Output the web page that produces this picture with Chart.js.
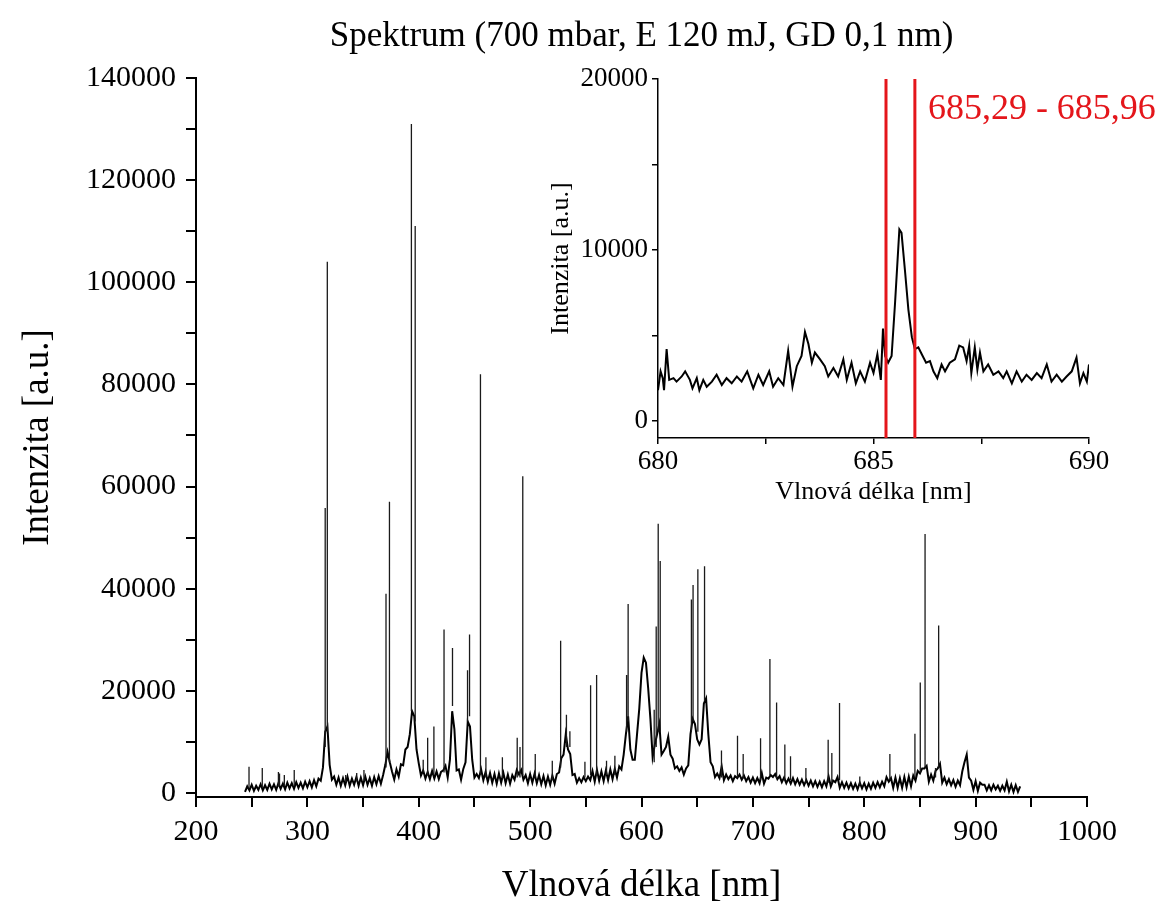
<!DOCTYPE html>
<html>
<head>
<meta charset="utf-8">
<script src="https://cdn.jsdelivr.net/npm/chart.js@4.4.0/dist/chart.umd.min.js"></script>
<style>
  html, body { margin: 0; padding: 0; background: #fff; }
  #wrap { position: relative; width: 1163px; height: 910px; }
  #main { position: absolute; left: 0; top: 0; }
  #inset { position: absolute; left: 530px; top: 40px; }
</style>
</head>
<body>
<div id="wrap">
  <canvas id="main" width="1163" height="910"></canvas>
  <canvas id="inset" width="633" height="470"></canvas>
</div>
<script>
/* Spektrum - data */

const chartTitle = 'Spektrum (700 mbar, E 120 mJ, GD 0,1 nm)';
const xTitle = 'Vlnová délka [nm]';
const yTitle = 'Intenzita [a.u.]';

// main axis ticks
const mainXTicks = [200, 250, 300, 350, 400, 450, 500, 550, 600, 650, 700, 750, 800, 850, 900, 950, 1000];
const mainYTicks = [0, 10000, 20000, 30000, 40000, 50000, 60000, 70000, 80000, 90000, 100000, 110000, 120000, 130000, 140000];

// continuum (every 2 nm from 244 nm)
const baseStart = 244;
const baseStep = 2;
const baseline = [
  200, 1300, 500, 1600, 400, 1400, 600, 1700, 500, 1500,
  600, 1800, 700, 1700, 600, 1900, 800, 1800, 700, 2000,
  900, 1900, 800, 2100, 1000, 2000, 900, 2200, 1100, 2300,
  1100, 2500, 1300, 2800, 2400, 5000, 12000, 13000, 5500, 2600,
  3200, 1600, 3000, 1400, 2900, 1500, 3200, 1400, 2800, 1600,
  3100, 1400, 3000, 1500, 3200, 1600, 2900, 1400, 3100, 1700,
  3300, 1800, 3500, 5500, 8000, 6000, 4200, 2600, 4600, 3200,
  5600, 5400, 8500, 9000, 11500, 16000, 15000, 8500, 5800, 3400,
  4400, 2800, 4100, 2700, 4300, 2800, 4200, 2700, 4100, 4400,
  5300, 3000, 6500, 16000, 12500, 4400, 4600, 2600, 4700, 6000,
  14000, 13000, 6500, 3000, 3700, 2900, 4600, 2500, 4100, 2200,
  3900, 2000, 3700, 1800, 3800, 2000, 3900, 1900, 3600, 1800,
  3500, 2600, 4500, 3600, 4500, 2600, 3500, 1900, 3700, 2000,
  3800, 1900, 3500, 1700, 3300, 1500, 3200, 1600, 3400, 1800,
  3700, 4000, 6800, 7500, 11500, 8500, 7600, 3500, 3700, 2000,
  2900, 2100, 3100, 2300, 3200, 2500, 4300, 2200, 4500, 2400,
  4200, 2300, 4400, 2500, 4600, 2700, 4700, 3000, 5200, 4600,
  7500, 11500, 15000, 8500, 6500, 6500, 11500, 16500, 23500, 26500,
  25500, 20500, 14500, 7000, 9500, 11500, 13500, 7500, 8200, 9000,
  11000, 7500, 6700, 4800, 5200, 4300, 5000, 3600, 4800, 5400,
  11500, 14500, 13500, 10500, 9500, 10500, 17500, 18500, 11500, 6000,
  5200, 3100, 3800, 2900, 5200, 2500, 3600, 2700, 3400, 2300,
  3300, 2900, 3600, 2600, 3400, 2300, 3100, 2000, 3000, 1900,
  2900, 1900, 3900, 1800, 3000, 2800, 3500, 3100, 3700, 2700,
  3300, 2100, 3000, 1900, 2800, 1800, 2900, 1700, 2700, 1600,
  2600, 1500, 2500, 1400, 2400, 1300, 2300, 1200, 2200, 1100,
  2300, 1300, 3200, 1300, 2400, 2100, 3100, 1000, 2100, 1000,
  2000, 900, 1900, 800, 1800, 700, 2000, 900, 1900, 700,
  1800, 800, 2000, 1000, 2100, 1100, 2200, 1300, 3100, 2200,
  2900, 1000, 3000, 1000, 2900, 1000, 3100, 1100, 3200, 1300,
  3400, 2400, 4300, 3800, 4800, 4800, 5300, 2200, 3600, 2400,
  4300, 4800, 5700, 2000, 3000, 1700, 2700, 1500, 2500, 1200,
  2400, 1500, 4200, 6000, 7500, 3000, 2400, 600, 2300, 400,
  2000, 1600, 1600, 500, 1500, 500, 1600, 700, 1400, 400,
  1400, 500, 2200, 300, 1600, 200, 1500, 200, 1300
];

// emission lines: [wavelength nm, peak intensity, intensity at the foot]
const lines = [
  [247.6, 5100, 900], [259.5, 4900, 1100], [274.0, 4100, 1300], [275.0, 3800, 1300],
  [279.3, 3500, 1300], [288.2, 4500, 1500], [316.0, 55800, 9000], [317.9, 104000, 12000],
  [334.4, 3500, 2200], [344.3, 3900, 2300], [350.8, 4500, 2300], [370.6, 39000, 5000],
  [373.7, 57000, 6000], [393.4, 131000, 16000], [396.8, 111000, 14000], [404.0, 6500, 4000],
  [408.0, 10800, 3500], [413.6, 13000, 3500], [422.7, 32000, 4000], [430.3, 28400, 17000],
  [443.8, 24000, 14000], [445.6, 31000, 15000], [455.4, 82000, 3500], [460.3, 7000, 3000],
  [475.1, 7000, 2800], [488.4, 10800, 3000], [490.9, 9000, 3000], [493.4, 62000, 3500],
  [504.6, 7600, 3000], [519.9, 6300, 2500], [527.4, 29800, 5000], [532.6, 15300, 9000],
  [535.7, 12100, 9000], [549.2, 6100, 3000], [554.3, 21100, 3500], [559.7, 23100, 3500],
  [568.6, 6300, 3500], [576.1, 7300, 3500], [586.6, 23100, 12000], [588.0, 37000, 14000],
  [611.4, 16300, 6000], [613.2, 32600, 9000], [615.0, 52700, 12000], [616.8, 45400, 12000],
  [644.8, 37900, 12000], [646.3, 40700, 14000], [650.6, 43800, 12000], [656.6, 44400, 18000],
  [671.8, 8300, 3000], [686.2, 11200, 3000], [691.3, 7600, 2800], [706.9, 10700, 2500],
  [715.3, 26200, 3500], [721.3, 17700, 2800], [728.7, 9500, 2500], [733.8, 7200, 2500],
  [747.6, 4900, 2000], [767.6, 10400, 2000], [770.9, 7800, 2000], [777.8, 17600, 2500],
  [796.0, 3200, 1500], [823.0, 7600, 2500], [845.5, 11600, 3000], [850.3, 21600, 4000],
  [854.6, 50700, 5000], [864.0, 4900, 3000], [866.8, 32800, 5000]
];

// inset: detail 680 - 690 nm
const insetXTicks = [680, 682.5, 685, 687.5, 690];
const insetYTicks = [0, 5000, 10000, 15000, 20000];
const bandEdges = [685.29, 685.96];
const bandLabel = '685,29 - 685,96';
const insetNm = [
  680.0, 680.06, 680.11, 680.14, 680.2, 680.26, 680.36, 680.43, 680.55, 680.63,
  680.74, 680.8, 680.9, 680.96, 681.05, 681.13, 681.25, 681.36, 681.48, 681.59,
  681.71, 681.83, 681.94, 682.07, 682.21, 682.33, 682.44, 682.58, 682.67, 682.79,
  682.91, 683.02, 683.12, 683.22, 683.33, 683.41, 683.49, 683.57, 683.64, 683.76,
  683.87, 683.95, 684.07, 684.18, 684.3, 684.38, 684.49, 684.59, 684.69, 684.8,
  684.92, 685.0, 685.09, 685.17, 685.22, 685.27, 685.34, 685.42, 685.5, 685.6,
  685.65, 685.73, 685.81, 685.89, 685.96, 686.04, 686.12, 686.22, 686.31, 686.39,
  686.48, 686.58, 686.66, 686.77, 686.89, 686.99, 687.08, 687.16, 687.22, 687.27,
  687.35, 687.41, 687.47, 687.55, 687.66, 687.78, 687.9, 688.01, 688.09, 688.21,
  688.32, 688.44, 688.55, 688.67, 688.79, 688.9, 689.02, 689.13, 689.25, 689.37,
  689.48, 689.6, 689.71, 689.79, 689.87, 689.95, 690.0
];
const insetInt = [
  1800, 2900, 2500, 1800, 4200, 2400, 2500, 2300, 2600, 2900,
  2400, 1900, 2500, 1800, 2400, 2000, 2300, 2700, 2100, 2500,
  2200, 2600, 2300, 2900, 1900, 2700, 2100, 2900, 2000, 2500,
  2100, 4100, 2000, 3200, 3800, 5200, 4500, 3400, 4000, 3600,
  3200, 2600, 3100, 2600, 3600, 2400, 3400, 2200, 2900, 2300,
  3400, 2800, 3900, 2400, 5400, 3800, 3400, 3800, 6900, 11200,
  11000, 8800, 6500, 4900, 4200, 4300, 3900, 3400, 3500, 2900,
  2500, 3300, 2900, 3400, 3600, 4400, 4300, 3500, 4400, 2800,
  4300, 3000, 4000, 2900, 3300, 2700, 2900, 2500, 2900, 2200,
  2900, 2300, 2700, 2400, 2800, 2500, 3300, 2300, 2700, 2300,
  2600, 2900, 3700, 2200, 2800, 2300, 3300
];

const SERIF = '"Liberation Serif", "DejaVu Serif", serif';
const RED = '#e4161b';

function continuumPoints() {
  return baseline.map((v, i) => ({ x: baseStart + i * baseStep, y: v }));
}

// each line is a vertical stroke from its foot to its peak, with a gap after it
function linePoints() {
  return lines.flatMap(([nm, peak, foot]) => [
    { x: nm, y: foot }, { x: nm, y: peak }, { x: nm, y: null }
  ]);
}

function axisStyle(size, width) {
  return {
    border: { color: '#000', width: width },
    grid: { drawOnChartArea: false, color: '#000', lineWidth: width, tickLength: size },
  };
}

function initMainChart() {
  const ctx = document.getElementById('main').getContext('2d');

  // eslint-disable-next-line no-unused-vars
  const mainChart = new Chart(ctx, {
    type: 'line',
    data: {
      datasets: [{
        data: linePoints(),
        borderColor: '#1a1a1a',
        borderWidth: 1.3,
        pointRadius: 0,
        spanGaps: false,
      },
      {
        data: continuumPoints(),
        borderColor: '#000',
        borderWidth: 2,
        pointRadius: 0,
        tension: 0,
      }]
    },
    options: {
      responsive: false,
      animation: false,
      events: [],
      layout: { padding: { left: 16, right: 76, top: 0, bottom: 2 } },
      plugins: {
        legend: { display: false },
        tooltip: { enabled: false },
        title: {
          display: true,
          fullSize: false,
          text: chartTitle,
          color: '#000',
          font: { family: SERIF, size: 35, weight: 'normal' },
          padding: { top: 16, bottom: 20 },
        },
      },
      scales: {
        x: {
          type: 'linear',
          min: 200,
          max: 1000,
          afterBuildTicks: s => { s.ticks = mainXTicks.map(v => ({ value: v })); },
          afterFit: s => { s.height = 111; },
          ticks: {
            autoSkip: false,
            maxRotation: 0,
            padding: 7,
            color: '#000',
            font: { family: SERIF, size: 30 },
            callback: v => (v % 100 === 0 ? String(v) : ''),
          },
          title: {
            display: true,
            text: xTitle,
            color: '#000',
            font: { family: SERIF, size: 37 },
            padding: { top: 0, bottom: 0 },
          },
          ...axisStyle(10, 2),
        },
        y: {
          type: 'linear',
          min: -800,
          max: 140000,
          afterBuildTicks: s => { s.ticks = mainYTicks.map(v => ({ value: v })); },
          afterFit: s => { s.width = 180; },
          ticks: {
            autoSkip: false,
            padding: 10,
            color: '#000',
            font: { family: SERIF, size: 30 },
            callback: v => (v % 20000 === 0 ? String(v) : ''),
          },
          title: {
            display: true,
            text: yTitle,
            color: '#000',
            font: { family: SERIF, size: 37 },
            padding: { top: 0, bottom: 0 },
          },
          ...axisStyle(10, 2),
        },
      },
    },
  });
}

const bandLabelPlugin = {
  id: 'bandLabel',
  afterDraw(chart) {
    const { ctx, scales } = chart;
    const x = scales.x.getPixelForValue(bandEdges[1]) + 13;
    const y = scales.y.getPixelForValue(18200);
    ctx.save();
    ctx.fillStyle = RED;
    ctx.font = '36px ' + SERIF;
    ctx.textBaseline = 'middle';
    ctx.textAlign = 'left';
    ctx.fillText(bandLabel, x, y);
    ctx.restore();
  }
};

function initInsetChart() {
  const ctx = document.getElementById('inset').getContext('2d');
  const yMin = -1000;
  const yMax = 20000;

  const edgeSets = bandEdges.map(edge => ({
    data: [{ x: edge, y: yMin }, { x: edge, y: yMax }],
    borderColor: RED,
    borderWidth: 3,
    pointRadius: 0,
    order: 0,
  }));

  // eslint-disable-next-line no-unused-vars
  const insetChart = new Chart(ctx, {
    type: 'line',
    data: {
      datasets: [
        ...edgeSets,
        {
          data: insetNm.map((nm, i) => ({ x: nm, y: insetInt[i] })),
          borderColor: '#000',
          borderWidth: 2,
          pointRadius: 0,
          tension: 0,
          order: 1,
        }
      ]
    },
    options: {
      responsive: false,
      animation: false,
      events: [],
      layout: { padding: { left: 16, right: 74, top: 39, bottom: 2 } },
      plugins: {
        legend: { display: false },
        tooltip: { enabled: false },
      },
      scales: {
        x: {
          type: 'linear',
          min: 680,
          max: 690,
          afterBuildTicks: s => { s.ticks = insetXTicks.map(v => ({ value: v })); },
          afterFit: s => { s.height = 70; },
          ticks: {
            autoSkip: false,
            maxRotation: 0,
            padding: 2,
            color: '#000',
            font: { family: SERIF, size: 27 },
            callback: v => (v % 5 === 0 ? String(v) : ''),
          },
          title: {
            display: true,
            text: xTitle,
            color: '#000',
            font: { family: SERIF, size: 26 },
            padding: { top: 0, bottom: 0 },
          },
          ...axisStyle(6, 1.5),
        },
        y: {
          type: 'linear',
          min: yMin,
          max: yMax,
          afterBuildTicks: s => { s.ticks = insetYTicks.map(v => ({ value: v })); },
          afterFit: s => { s.width = 112; },
          ticks: {
            autoSkip: false,
            padding: 4,
            color: '#000',
            font: { family: SERIF, size: 27 },
            callback: v => (v % 10000 === 0 ? String(v) : ''),
          },
          title: {
            display: true,
            text: yTitle,
            color: '#000',
            font: { family: SERIF, size: 26 },
            padding: { top: 0, bottom: 0 },
          },
          ...axisStyle(6, 1.5),
        },
      },
    },
    plugins: [bandLabelPlugin],
  });
}

const app = () => {
  initMainChart();
  initInsetChart();
};

app();
</script>
</body>
</html>
